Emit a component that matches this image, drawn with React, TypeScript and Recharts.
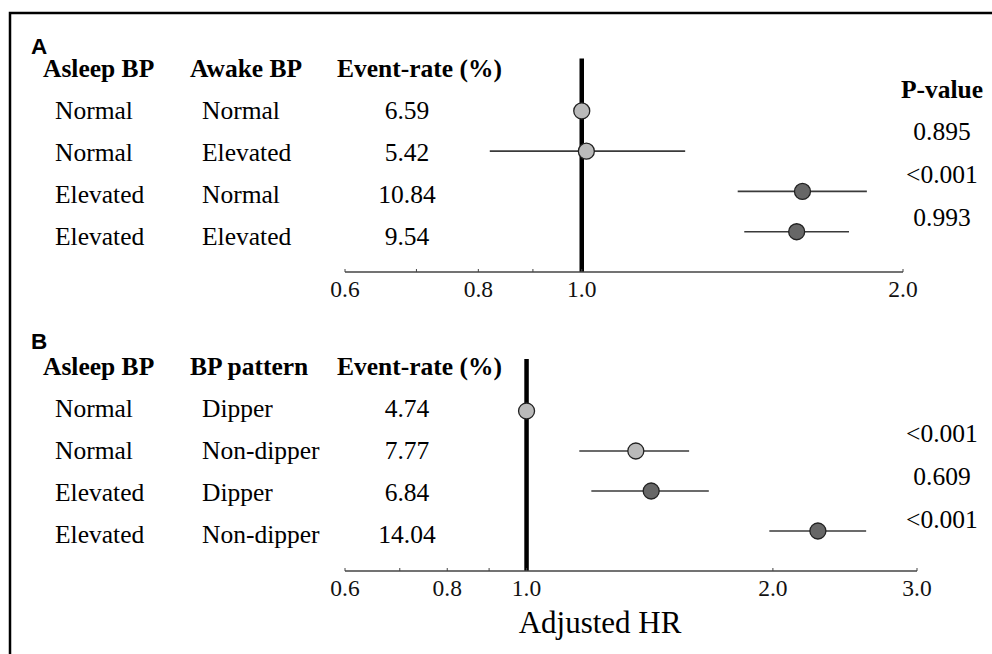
import * as React from 'react';
import { ScatterChart, Scatter, XAxis, YAxis, ErrorBar, ReferenceLine } from 'recharts';

// panel A: asleep BP x awake BP
const asleepA = ['Normal', 'Normal', 'Elevated', 'Elevated'];
const awakeA = ['Normal', 'Elevated', 'Normal', 'Elevated'];
const eventRateA = ['6.59', '5.42', '10.84', '9.54'];
const hrA = [1.0, 1.01, 1.61, 1.59];
const lowA = [1.0, 0.82, 1.4, 1.42];
const highA = [1.0, 1.25, 1.85, 1.78];
const pValueA = ['0.895', '<0.001', '0.993'];

// panel B: asleep BP x dipping pattern
const asleepB = ['Normal', 'Normal', 'Elevated', 'Elevated'];
const patternB = ['Dipper', 'Non-dipper', 'Dipper', 'Non-dipper'];
const eventRateB = ['4.74', '7.77', '6.84', '14.04'];
const hrB = [1.0, 1.36, 1.42, 2.27];
const lowB = [1.0, 1.16, 1.2, 1.98];
const highB = [1.0, 1.58, 1.67, 2.6];
const pValueB = ['<0.001', '0.609', '<0.001'];

const ticksA = [0.6, 0.7, 0.8, 0.9, 1.0, 2.0];
const ticksB = [0.6, 0.7, 0.8, 0.9, 1.0, 2.0, 3.0];
const labeledTicks = [0.6, 0.8, 1.0, 2.0, 3.0];

const SERIF = '"Liberation Serif", "Times New Roman", serif';
const SANS = '"Liberation Sans", Arial, sans-serif';

const buildRows = (hr: number[], low: number[], high: number[], asleep: string[]) =>
  hr.map((v, i) => ({ hr: v, row: i + 1, asleep: asleep[i], err: [v - low[i], high[i] - v] }));

const HrTick = (props: any) => {
  const { x, y, payload } = props;
  const v = payload.value;
  return (
    <g>
      <line x1={x} x2={x} y1={y} y2={y - 3} stroke="#444" strokeWidth={1} />
      {labeledTicks.includes(v) && (
        <text x={x} y={y + 25} textAnchor="middle" fontFamily={SERIF} style={{ fontFamily: SERIF }}
          fontSize={23.5} fill="#111">
          {v.toFixed(1)}
        </text>
      )}
    </g>
  );
};

const Dot = (props: any) => {
  const { cx, cy, payload } = props;
  const fill = payload.asleep === 'Elevated' ? '#676767' : '#bababa';
  return <circle cx={cx} cy={cy} r={8} fill={fill} stroke="#222" strokeWidth={1.3} />;
};

const Forest = ({ data, ticks, max, top, height, margin }: any) => (
  <div style={{ position: 'absolute', left: 0, top }}>
    <ScatterChart width={992} height={height} margin={margin}>
      <XAxis
        type="number"
        dataKey="hr"
        scale="log"
        domain={[0.6, max]}
        allowDataOverflow
        ticks={ticks}
        interval={0}
        height={30}
        tickSize={0}
        tickMargin={0}
        tickLine={false}
        axisLine={{ stroke: '#444', strokeWidth: 1.5 }}
        tick={<HrTick />}
      />
      <YAxis type="number" dataKey="row" domain={[-0.3, 5]} reversed hide />
      <ReferenceLine x={1} stroke="#000" strokeWidth={4.5} />
      <Scatter data={data} shape={<Dot />} isAnimationActive={false}>
        <ErrorBar dataKey="err" direction="x" width={0} stroke="#3a3a3a" strokeWidth={1.7} />
      </Scatter>
    </ScatterChart>
  </div>
);

const Table = ({ top, headers, col1, col2, col3, pvals, pTop }: any) => (
  <g>
    {headers.map((h: string, i: number) => (
      <text key={h} x={[43, 190, 337][i]} y={top} fontFamily={SERIF} fontSize={25.5} fontWeight="bold">
        {h}
      </text>
    ))}
    {col1.map((t: string, i: number) => (
      <g key={i} fontFamily={SERIF} fontSize={25.5}>
        <text x={55} y={top + 42 + i * 42}>{t}</text>
        <text x={202} y={top + 42 + i * 42}>{col2[i]}</text>
        <text x={407} y={top + 42 + i * 42} textAnchor="middle">{col3[i]}</text>
      </g>
    ))}
    {pvals.map((p: string, i: number) => (
      <text key={i} x={942} y={pTop + i * 43} textAnchor="middle" fontFamily={SERIF} fontSize={25.5}>
        {p}
      </text>
    ))}
  </g>
);

export default function App() {
  const dataA = buildRows(hrA, lowA, highA, asleepA);
  const dataB = buildRows(hrB, lowB, highB, asleepB);
  return (
    <div style={{ position: 'absolute', left: 0, top: 0, width: 992, height: 654, background: '#fff', overflow: 'hidden' }}>
      <Forest data={dataA} ticks={ticksA} max={2} top={0} height={310}
        margin={{ top: 58.6, right: 89, bottom: 8, left: 345 }} />
      <Forest data={dataB} ticks={ticksB} max={3} top={310} height={344}
        margin={{ top: 49, right: 75, bottom: 53, left: 345 }} />
      <svg width={992} height={654} style={{ position: 'absolute', left: 0, top: 0, pointerEvents: 'none' }}>
        <path d="M10,654 V13 H992" fill="none" stroke="#000" strokeWidth={2.5} />
        <text x={31} y={54} fontFamily={SANS} fontSize={22.5} fontWeight="bold">A</text>
        <text x={31} y={349} fontFamily={SANS} fontSize={22.5} fontWeight="bold">B</text>
        <text x={942} y={98} textAnchor="middle" fontFamily={SERIF} fontSize={25.5} fontWeight="bold">P-value</text>
        <Table top={77} headers={['Asleep BP', 'Awake BP', 'Event-rate (%)']}
          col1={asleepA} col2={awakeA} col3={eventRateA} pvals={pValueA} pTop={140} />
        <Table top={375} headers={['Asleep BP', 'BP pattern', 'Event-rate (%)']}
          col1={asleepB} col2={patternB} col3={eventRateB} pvals={pValueB} pTop={442} />
        <text x={600} y={633} textAnchor="middle" fontFamily={SERIF} fontSize={31}>Adjusted HR</text>
      </svg>
    </div>
  );
}
